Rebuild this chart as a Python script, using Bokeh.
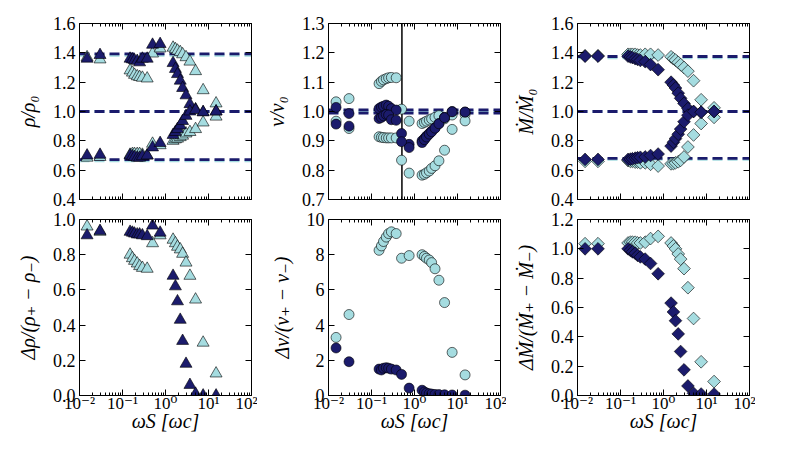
import math
from bokeh.plotting import figure
from bokeh.layouts import column, row
from bokeh.models import (FixedTicker, PrintfTickFormatter, CustomJSTickFormatter,
                          LinearAxis, LogAxis, Span, Range1d)
from bokeh.embed import file_html
from bokeh.resources import INLINE

# ---------------- data ----------------
omega = [0.015, 0.03, 0.15, 0.17, 0.19, 0.22, 0.25, 0.29, 0.375, 0.5, 0.75,
         1.5, 1.7, 1.9, 2.2, 2.5, 3.0, 3.7, 5.0, 7.5, 15.0]

rho_dark_plus = [1.36, 1.385, 1.36, 1.355, 1.35, 1.345, 1.335, 1.36, 1.36, 1.455, 1.46,
                 1.33, 1.29, 1.255, 1.21, 1.16, 1.11, 1.05, 1.015, 0.995, 1.0]
rho_dark_minus = [0.70, 0.705, 0.70, 0.695, 0.69, 0.685, 0.685, 0.695, 0.70, 0.755, 0.785,
                  0.84, 0.86, 0.88, 0.905, 0.935, 0.97, 1.0, 1.01, 0.995, 1.0]
rho_light_plus = [1.37, 1.355, 1.28, 1.265, 1.25, 1.24, 1.235, 1.23, 1.225, 1.395, 1.43,
                  1.435, 1.425, 1.415, 1.405, 1.39, 1.37, 1.34, 1.275, 1.145, 1.055]
rho_light_minus = [0.685, 0.69, 0.705, 0.71, 0.71, 0.71, 0.71, 0.705, 0.70, 0.78, 0.77,
                   0.80, 0.81, 0.815, 0.825, 0.835, 0.85, 0.86, 0.88, 0.925, 0.965]

drho_dark = [0.91, 0.935, 0.93, 0.925, 0.92, 0.915, 0.915, 0.91, 0.905, 0.965, 0.925,
             0.68, 0.62, 0.535, 0.43, 0.31, 0.18, 0.06, 0.01, 0.0, 0.0]
drho_light = [0.96, 0.93, 0.80, 0.78, 0.765, 0.75, 0.735, 0.725, 0.72, 0.865, 0.91,
              0.885, 0.865, 0.845, 0.83, 0.805, 0.755, 0.68, 0.545, 0.30, 0.125]

v_dark_plus = [1.014, 0.993, 1.01, 1.015, 1.018, 1.022, 1.018, 1.01, 1.005, 0.925, 0.888,
               0.90, 0.908, 0.916, 0.925, 0.933, 0.944, 0.959, 0.98, 1.0, 0.998]
v_dark_minus = [0.957, 0.95, 0.976, 0.98, 0.985, 0.99, 0.988, 0.972, 0.97, 0.897, 0.877,
                0.894, 0.904, 0.913, 0.923, 0.931, 0.943, 0.958, 0.979, 0.999, 0.998]
v_light_plus = [1.033, 1.044, 1.095, 1.103, 1.108, 1.112, 1.115, 1.116, 1.115, 1.008, 0.967,
                0.959, 0.963, 0.967, 0.971, 0.975, 0.98, 0.986, 0.975, 0.988, 0.99]
v_light_minus = [0.967, 0.942, 0.914, 0.912, 0.911, 0.91, 0.91, 0.91, 0.91, 0.834, 0.79,
                 0.783, 0.786, 0.791, 0.797, 0.806, 0.815, 0.832, 0.868, 0.939, 0.968]

dv_dark = [2.7, 1.92, 1.5, 1.45, 1.55, 1.58, 1.55, 1.5, 1.45, 1.2, 0.42,
           0.3, 0.2, 0.14, 0.1, 0.08, 0.06, 0.05, 0.04, 0.03, 0.02]
dv_light = [3.3, 4.6, 8.25, 8.5, 8.75, 9.0, 9.2, 9.3, 9.2, 7.8, 7.95,
            8.0, 7.9, 7.8, 7.7, 7.55, 7.2, 6.55, 5.28, 2.45, 1.17]

m_dark_plus = [1.377, 1.377, 1.377, 1.372, 1.368, 1.36, 1.355, 1.348, 1.34, 1.32, 1.285,
               1.20, 1.18, 1.16, 1.125, 1.09, 1.055, 1.02, 1.0, 0.995, 1.0]
m_dark_minus = [0.673, 0.673, 0.673, 0.675, 0.678, 0.682, 0.685, 0.688, 0.69, 0.70, 0.71,
                0.764, 0.79, 0.815, 0.845, 0.88, 0.93, 0.975, 1.0, 0.995, 1.0]
m_light_plus = [1.38, 1.38, 1.39, 1.39, 1.39, 1.39, 1.385, 1.385, 1.39, 1.39, 1.385,
                1.373, 1.36, 1.35, 1.335, 1.32, 1.30, 1.275, 1.21, 1.08, 1.025]
m_light_minus = [0.66, 0.66, 0.665, 0.66, 0.66, 0.655, 0.655, 0.65, 0.65, 0.64, 0.628,
                 0.643, 0.645, 0.65, 0.657, 0.667, 0.69, 0.758, 0.84, 0.918, 0.96]

dm_dark = [1.0, 1.0, 1.0, 0.99, 0.98, 0.97, 0.955, 0.945, 0.93, 0.90, 0.83,
           0.63, 0.57, 0.51, 0.42, 0.30, 0.175, 0.065, 0.015, 0.01, 0.01]
dm_light = [1.035, 1.035, 1.04, 1.045, 1.045, 1.045, 1.04, 1.04, 1.045, 1.07, 1.085,
            1.04, 1.02, 1.0, 0.965, 0.93, 0.865, 0.735, 0.525, 0.23, 0.095]

rho_ref_dark = [1.393, 1.0, 0.672]
rho_ref_light = [1.383, 1.0, 0.664]
v_ref_dark = [1.0055, 0.9945]
v_ref_light = [1.0]
m_ref_dark = [1.375, 1.0, 0.68]
m_ref_light = [1.366, 1.0, 0.673]
v_vertical = 0.51

x_major = [0.01, 0.1, 1, 10, 100]
x_minor = [k * 10.0 ** e for e in range(-2, 2) for k in range(2, 10)]

xlabel = "ωS [ωc]"

DARK = "#1b1b6c"
LIGHT = "#a5dce0"
FONT = "Liberation Serif, DejaVu Serif, serif"

EMPTY = "return ''"
XFMT = """
const e = Math.round(Math.log10(tick));
const sup = {'-':'\u207b','0':'\u2070','1':'\u00b9','2':'\u00b2','3':'\u00b3'};
return '10' + String(e).split('').map(c => sup[c]).join('');
"""


def style_axis(ax, minor=True, size="18px"):
    ax.axis_line_color = "black"
    ax.axis_line_width = 1
    ax.major_tick_in = 6
    ax.major_tick_out = 0
    ax.major_tick_line_color = "black"
    ax.major_tick_line_width = 1
    if minor:
        ax.minor_tick_in = 3
        ax.minor_tick_out = 0
        ax.minor_tick_line_color = "black"
    else:
        ax.minor_tick_line_color = None
    ax.major_label_text_font = FONT
    ax.major_label_text_font_size = size
    ax.major_label_text_color = "black"
    ax.axis_label_text_font = FONT
    ax.axis_label_text_font_size = "20px"
    ax.axis_label_text_font_style = "italic"
    ax.axis_label_text_color = "black"


def make_panel(ylo, yhi, yticks, yfmt, ylabel, top, left_border):
    p = figure(x_axis_type="log", x_range=Range1d(0.01, 100), y_range=Range1d(ylo, yhi),
               frame_width=172, frame_height=176, output_backend="svg",
               toolbar_location=None, min_border_left=left_border, min_border_right=6,
               min_border_top=23 if top else 10, min_border_bottom=10 if top else 54)
    p.xgrid.visible = False
    p.ygrid.visible = False
    p.outline_line_color = "black"
    p.background_fill_color = "white"
    p.border_fill_color = "white"

    xt = FixedTicker(ticks=x_major, minor_ticks=x_minor)
    yt = FixedTicker(ticks=yticks, minor_ticks=[])

    xa = p.xaxis[0]
    xa.ticker = xt
    style_axis(xa, size="17px")
    if top:
        xa.formatter = CustomJSTickFormatter(code=EMPTY)
        xa.major_label_standoff = 0
    else:
        xa.formatter = CustomJSTickFormatter(code=XFMT)
        xa.major_label_standoff = -2
        xa.axis_label = xlabel
        xa.axis_label_standoff = -6

    ya = p.yaxis[0]
    ya.ticker = yt
    ya.formatter = PrintfTickFormatter(format=yfmt)
    style_axis(ya, minor=False)
    ya.axis_label = ylabel
    ya.major_label_standoff = 4
    ya.axis_label_standoff = 11

    ta = LogAxis(ticker=xt, formatter=CustomJSTickFormatter(code=EMPTY))
    style_axis(ta)
    ta.major_label_standoff = 0
    p.add_layout(ta, "above")

    ra = LinearAxis(ticker=yt, formatter=CustomJSTickFormatter(code=EMPTY))
    style_axis(ra, minor=False)
    ra.major_label_standoff = 0
    p.add_layout(ra, "right")
    return p


def add_refs(p, light_vals, dark_vals):
    for v in light_vals:
        p.add_layout(Span(location=v, dimension="width", line_color=LIGHT,
                          line_width=2.8, line_dash="10 5", level="underlay"))
    for v in dark_vals:
        p.add_layout(Span(location=v, dimension="width", line_color=DARK,
                          line_width=2.8, line_dash="10 5", level="underlay"))


def pts(p, ys, marker, size, color, angle=0.0):
    p.scatter(omega, ys, marker=marker, size=size, fill_color=color, angle=angle,
              line_color="black", line_width=0.6)


DIAMOND_ANGLE = math.pi / 4

# top-left: density
p1 = make_panel(0.4, 1.6, [0.4, 0.6, 0.8, 1.0, 1.2, 1.4, 1.6], "%.1f", "ρ/ρ₀", True, 79)
add_refs(p1, rho_ref_light, rho_ref_dark)
pts(p1, rho_light_plus, "triangle", 12, LIGHT)
pts(p1, rho_light_minus, "triangle", 12, LIGHT)
pts(p1, rho_dark_plus, "triangle", 12, DARK)
pts(p1, rho_dark_minus, "triangle", 12, DARK)

# top-middle: velocity
p2 = make_panel(0.7, 1.3, [0.7, 0.8, 0.9, 1.0, 1.1, 1.2, 1.3], "%.1f", "v/v₀", True, 71)
add_refs(p2, v_ref_light, v_ref_dark)
p2.add_layout(Span(location=v_vertical, dimension="height", line_color="black",
                   line_width=1.5, level="underlay"))
pts(p2, v_light_plus, "circle", 10, LIGHT)
pts(p2, v_light_minus, "circle", 10, LIGHT)
pts(p2, v_dark_plus, "circle", 10, DARK)
pts(p2, v_dark_minus, "circle", 10, DARK)

# top-right: mass flux
p3 = make_panel(0.4, 1.6, [0.4, 0.6, 0.8, 1.0, 1.2, 1.4, 1.6], "%.1f", "Ṁ/Ṁ₀", True, 71)
add_refs(p3, m_ref_light, m_ref_dark)
pts(p3, m_light_plus, "square", 9, LIGHT, DIAMOND_ANGLE)
pts(p3, m_light_minus, "square", 9, LIGHT, DIAMOND_ANGLE)
pts(p3, m_dark_plus, "square", 9, DARK, DIAMOND_ANGLE)
pts(p3, m_dark_minus, "square", 9, DARK, DIAMOND_ANGLE)

# bottom row
p4 = make_panel(0.0, 1.0, [0.0, 0.2, 0.4, 0.6, 0.8, 1.0], "%.1f", "Δρ/(ρ₊ − ρ₋)", False, 79)
pts(p4, drho_light, "triangle", 12, LIGHT)
pts(p4, drho_dark, "triangle", 12, DARK)

p5 = make_panel(0.0, 10.0, [0, 2, 4, 6, 8, 10], "%d", "Δv/(v₊ − v₋)", False, 71)
pts(p5, dv_light, "circle", 10, LIGHT)
pts(p5, dv_dark, "circle", 10, DARK)

p6 = make_panel(0.0, 1.2, [0.0, 0.2, 0.4, 0.6, 0.8, 1.0, 1.2], "%.1f", "ΔṀ/(Ṁ₊ − Ṁ₋)", False, 71)
pts(p6, dm_light, "square", 9, LIGHT, DIAMOND_ANGLE)
pts(p6, dm_dark, "square", 9, DARK, DIAMOND_ANGLE)

layout = column(row(p1, p2, p3), row(p4, p5, p6))

open("out.html", "w").write(file_html(layout, INLINE))
